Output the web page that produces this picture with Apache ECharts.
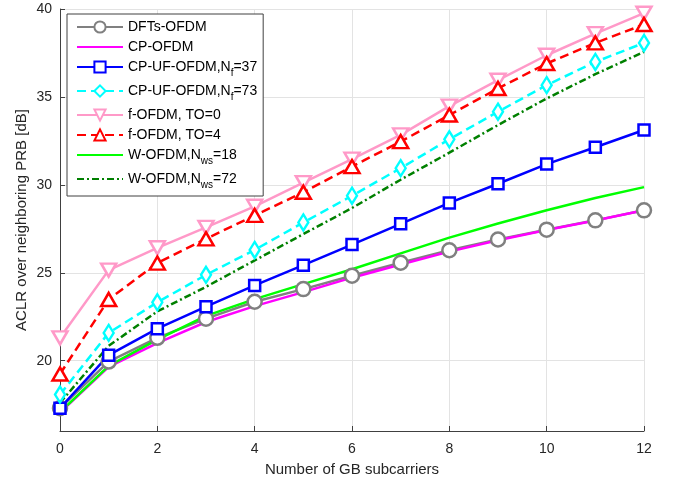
<!DOCTYPE html>
<html>
<head>
<meta charset="utf-8">
<script src="https://cdn.jsdelivr.net/npm/echarts@6/dist/echarts.min.js"></script>
<style>
  html, body { margin: 0; padding: 0; background: #fff; }
  #chart { width: 676px; height: 485px; }
</style>
</head>
<body>
<div id="chart"></div>
<script>
// number of guard band subcarriers
var gbSub = [0, 1, 2, 3, 4, 5, 6, 7, 8, 9, 10, 11, 12];
var yTicks = [20, 25, 30, 35, 40];

// ACLR values [dB]
var dftsOfdm = [17.3, 19.95, 21.3, 22.39, 23.35, 24.07, 24.83, 25.57, 26.28, 26.89, 27.45, 27.98, 28.55];
var cpOfdm = [17.05, 19.65, 21.0, 22.2, 23.1, 23.9, 24.72, 25.47, 26.2, 26.85, 27.43, 27.97, 28.55];
var cpUf37 = [17.3, 20.31, 21.82, 23.07, 24.28, 25.43, 26.6, 27.78, 28.97, 30.06, 31.18, 32.14, 33.12];
var cpUf73 = [18.07, 21.58, 23.32, 24.88, 26.3, 27.86, 29.38, 30.95, 32.59, 34.16, 35.67, 36.99, 38.07];
var fOfdmTo0 = [21.3, 25.15, 26.42, 27.58, 28.78, 30.13, 31.46, 32.84, 34.48, 35.95, 37.37, 38.6, 39.76];
var fOfdmTo4 = [19.24, 23.48, 25.55, 26.93, 28.26, 29.58, 31.04, 32.46, 33.97, 35.48, 36.9, 38.07, 39.12];
var wOfdm18 = [17.07, 19.7, 21.2, 22.55, 23.5, 24.35, 25.2, 26.1, 27.0, 27.8, 28.55, 29.25, 29.87];
var wOfdm72 = [17.6, 20.84, 22.8, 24.2, 25.7, 27.2, 28.68, 30.29, 31.83, 33.4, 34.91, 36.29, 37.56];

var names = [
  'DFTs-OFDM',
  'CP-OFDM',
  'CP-UF-OFDM,Nf=37',
  'CP-UF-OFDM,Nf=73',
  'f-OFDM, TO=0',
  'f-OFDM, TO=4',
  'W-OFDM,Nws=18',
  'W-OFDM,Nws=72'
];
// legend labels with subscripts
var legendText = {
  'CP-UF-OFDM,Nf=37': 'CP-UF-OFDM,N{sub|f}=37',
  'CP-UF-OFDM,Nf=73': 'CP-UF-OFDM,N{sub|f}=73',
  'W-OFDM,Nws=18': 'W-OFDM,N{sub|ws}=18',
  'W-OFDM,Nws=72': 'W-OFDM,N{sub|ws}=72'
};
// series drawn without markers
var noMarker = ['CP-OFDM', 'W-OFDM,Nws=18', 'W-OFDM,Nws=72'];

var chart = echarts.init(document.getElementById('chart'));

function pairs(vals) {
  return vals.map(function(v, i) { return [gbSub[i], v]; });
}

// one line series
function mkLine(name, vals, color, type, symbol, size, rotate) {
  var s = {
    name: name,
    type: 'line',
    data: pairs(vals),
    lineStyle: { color: color, width: 2.5, type: type },
    itemStyle: { color: '#fff', borderColor: color, borderWidth: 2.5 },
    emphasis: { disabled: true },
    animation: false
  };
  if (symbol) {
    s.symbol = symbol;
    s.symbolSize = size;
    if (rotate) s.symbolRotate = rotate;
  } else {
    s.symbol = 'none';
    s.itemStyle = { color: color };
  }
  return s;
}

var series = [
  mkLine(names[0], dftsOfdm, '#808080', 'solid', 'circle', 14),
  mkLine(names[1], cpOfdm, '#ff00ff', 'solid', null),
  mkLine(names[2], cpUf37, '#0000ff', 'solid', 'rect', 11),
  mkLine(names[3], cpUf73, '#00ffff', [9, 5], 'diamond', [10, 16]),
  mkLine(names[4], fOfdmTo0, '#ff99c8', 'solid', 'triangle', [15, 13], 180),
  mkLine(names[5], fOfdmTo4, '#ff0000', [9, 5], 'triangle', [15, 13]),
  mkLine(names[6], wOfdm18, '#00ff00', 'solid', null),
  mkLine(names[7], wOfdm72, '#008000', [7, 3, 2, 3], null)
];

var legendData = names.map(function(n) {
  if (noMarker.indexOf(n) >= 0) {
    return { name: n, itemStyle: { opacity: 0 } };
  }
  return { name: n };
});

chart.setOption({
  textStyle: { fontFamily: 'Liberation Sans, Arial, sans-serif' },
  grid: { left: 60, right: 32, top: 9, bottom: 54 },
  xAxis: {
    type: 'value',
    min: 0,
    max: 12,
    interval: 2,
    name: 'Number of GB subcarriers',
    nameLocation: 'middle',
    nameGap: 31,
    nameTextStyle: { color: '#262626', fontSize: 15 },
    axisLine: { lineStyle: { color: '#404040', width: 1 } },
    axisTick: { inside: true, length: 5, lineStyle: { color: '#404040' } },
    axisLabel: { color: '#262626', fontSize: 14, margin: 11 },
    splitLine: { show: true, lineStyle: { color: '#e3e3e3', width: 1 } }
  },
  yAxis: {
    type: 'value',
    min: 16,
    max: 40,
    name: 'ACLR over neighboring PRB [dB]',
    nameLocation: 'middle',
    nameGap: 31,
    nameMoveOverlap: false,
    nameTextStyle: { color: '#262626', fontSize: 15 },
    axisLine: { show: true, lineStyle: { color: '#404040', width: 1 } },
    axisTick: { show: true, inside: true, length: 5, customValues: yTicks, lineStyle: { color: '#404040' } },
    axisLabel: { color: '#262626', fontSize: 14, margin: 8, customValues: yTicks },
    splitLine: { show: true, lineStyle: { color: '#e3e3e3', width: 1 } }
  },
  legend: {
    data: legendData,
    orient: 'vertical',
    left: 67,
    top: 14,
    padding: [6, 6, 6, 9],
    itemGap: 6,
    itemWidth: 46,
    itemHeight: 14,
    backgroundColor: '#fff',
    borderColor: '#404040',
    borderWidth: 1,
    selectedMode: false,
    textStyle: {
      color: '#000',
      fontSize: 14,
      rich: {
        sub: { fontSize: 10, padding: [12, 0, 0, 0], color: '#000' }
      }
    },
    formatter: function(name) {
      return legendText[name] || name;
    }
  },
  series: series
});
</script>
</body>
</html>
